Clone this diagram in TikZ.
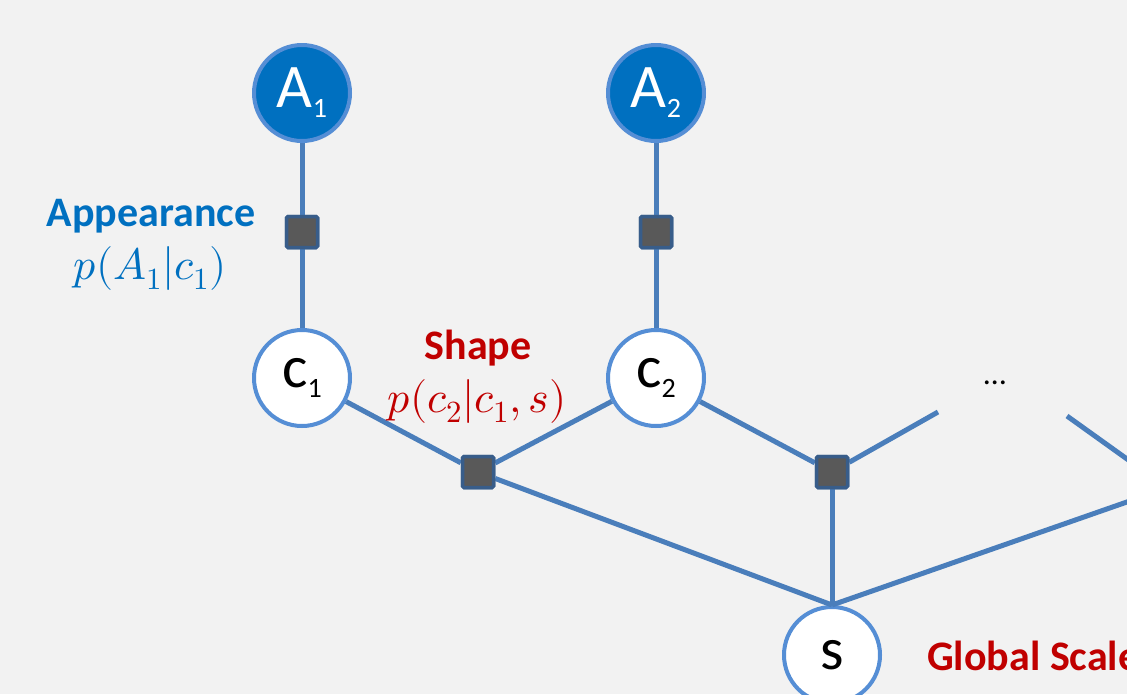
\documentclass[tikz,border=0pt]{standalone}
\usepackage{fontspec}
\usepackage{unicode-math}
\setmainfont{Carlito}
\setmathfont{Latin Modern Math}
\definecolor{bg}{HTML}{F2F2F2}
\definecolor{obsfill}{HTML}{0070C0}
\definecolor{nodeborder}{HTML}{558ED5}
\definecolor{edgecol}{HTML}{4A7EBB}
\definecolor{facfill}{HTML}{595959}
\definecolor{facborder}{HTML}{385D8A}
\definecolor{appblue}{HTML}{0070C0}
\definecolor{shapered}{HTML}{C00000}
\newcommand{\nodelabel}[2]{{\fontsize{62}{62}\selectfont #1}\raisebox{-10pt}{\fontsize{28}{28}\selectfont #2}}
\newcommand{\hidlabel}[2]{{\fontsize{60}{60}\selectfont #1}\raisebox{-10pt}{\fontsize{28}{28}\selectfont #2}}
\begin{document}
\begin{tikzpicture}[x=1pt,y=-1pt,
  var/.style={circle, minimum size=96pt, inner sep=0pt, line width=4pt, draw=nodeborder},
  obs/.style={var, fill=obsfill, text=white},
  hid/.style={var, fill=white, text=black},
  factor/.style={rectangle, minimum size=31pt, inner sep=0pt, fill=facfill, draw=facborder, line width=3.5pt, rounded corners=1.5pt},
  edge/.style={draw=edgecol, line width=5pt},
  bluetitle/.style={text=appblue, font=\bfseries\fontsize{42}{42}\selectfont},
  redtitle/.style={text=shapered, font=\bfseries\fontsize{42}{42}\selectfont}]
\useasboundingbox (0,0) rectangle (1127,694);
\clip (0,0) rectangle (1127,694);
\fill[bg] (0,0) rectangle (1127,694);
% nodes
\node[obs] (a1) at (302,93) {\nodelabel{A}{1}};
\node[obs] (a2) at (656,93) {\nodelabel{A}{2}};
\node[hid] (c1) at (302,378) {\hidlabel{c}{1}};
\node[hid] (c2) at (656,378) {\hidlabel{c}{2}};
\node[hid] (s) at (832,655) {\fontsize{60}{60}\selectfont s};
\node[factor] (fa1) at (302,232) {};
\node[factor] (fa2) at (656,232) {};
\node[factor] (fs1) at (478,472) {};
\node[factor] (fs2) at (832,472) {};
\coordinate (free1) at (938,412);
\coordinate (free2) at (1067,416);
\coordinate (free3) at (1187,502);
\coordinate (free4) at (1187,481);
% edges
\draw[edge] (a1) -- (fa1) -- (c1);
\draw[edge] (a2) -- (fa2) -- (c2);
\draw[edge] (c1) -- (fs1);
\draw[edge] (c2) -- (fs1);
\draw[edge] (fs1) -- (s.north);
\draw[edge] (c2) -- (fs2);
\draw[edge] (fs2) -- (free1);
\draw[edge] (fs2) -- (s.north);
\draw[edge] (s.north) -- (free4);
\draw[edge] (free2) -- (free3);
% redraw factors on top
\node[factor] at (fa1) {};
\node[factor] at (fa2) {};
\node[factor] at (fs1) {};
\node[factor] at (fs2) {};
% labels
\node[bluetitle] (apptitle) at (151,216) {Appearance};
\node[text=appblue, font=\fontsize{44}{44}\selectfont] (appmath) at (150,268) {$p(A_1|c_1)$};
\node[redtitle] (shapetitle) at (478,348) {Shape};
\node[text=shapered, font=\fontsize{44}{44}\selectfont] (shapemath) at (477,401) {$p(c_2|c_1,s)$};
\node[text=black, font=\fontsize{32}{32}\selectfont] (dots) at (995,383) {…};
\node[text=shapered, font=\bfseries\fontsize{42}{42}\selectfont, anchor=base west, inner sep=0pt] (gtitle) at (927,670) {Global Scale};
\end{tikzpicture}
\end{document}
